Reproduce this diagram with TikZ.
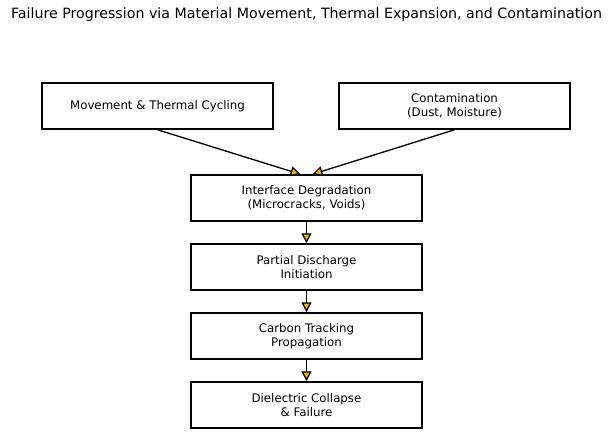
\documentclass[tikz,border=0pt]{standalone}
\usepackage{fontspec}
\setmainfont{DejaVu Sans}
\usetikzlibrary{arrows.meta}
\definecolor{tipgold}{HTML}{F2B705}
\tikzset{
  stagebox/.style={draw, line width=1.5pt, minimum width=231pt, minimum height=46pt, align=center, font=\fontsize{11.8}{14}\selectfont},
  flow/.style={line width=1.3pt, -{Triangle[width=10pt,length=10pt,fill=tipgold]}}
}
\begin{document}
\begin{tikzpicture}[x=1pt,y=-1pt]
        % Fix the page to the reference size
        \useasboundingbox (0,0) rectangle (615,437);
        \node[font=\fontsize{14.2}{16}\selectfont] (title) at (306.5,15) {Failure Progression via Material Movement, Thermal Expansion, and Contamination};

        % Two causes on top
        \node[stagebox] (move) at (157.5,106) {Movement \& Thermal Cycling};
        \node[stagebox] (contam) at (454.5,106) {Contamination\\(Dust, Moisture)};

        % The chain of stages
        \node[stagebox] (iface) at (306.5,198) {Interface Degradation\\(Microcracks, Voids)};
        \node[stagebox] (pd) at (306.5,267) {Partial Discharge\\Initiation};
        \node[stagebox] (carbon) at (306.5,336) {Carbon Tracking\\Propagation};
        \node[stagebox] (collapse) at (306.5,405) {Dielectric Collapse\\\& Failure};

        % Connectors
        \draw[flow] (move.south) -- ([xshift=-6pt]iface.north);
        \draw[flow] (contam.south) -- ([xshift=6pt]iface.north);
        \draw[flow] (iface) -- (pd);
        \draw[flow] (pd) -- (carbon);
        \draw[flow] (carbon) -- (collapse);
\end{tikzpicture}
\end{document}
